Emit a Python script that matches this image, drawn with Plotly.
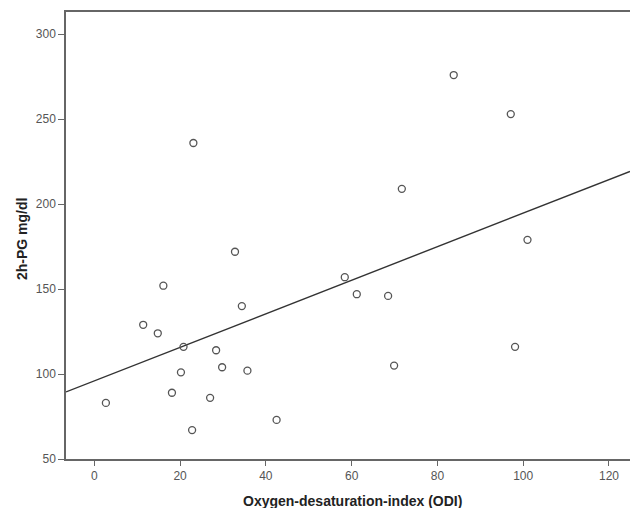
import numpy as np
import plotly.graph_objects as go

odi = [2.7, 11.4, 14.8, 16.1, 18.1, 20.2, 20.8, 22.8, 23.1, 27.0, 28.4, 29.8, 32.8, 34.4, 35.7, 42.5,
       58.4, 61.2, 68.5, 69.9, 71.7, 83.8, 97.1, 98.1, 101.0]
pg2h = [83, 129, 124, 152, 89, 101, 116, 67, 236, 86, 114, 104, 172, 140, 102, 73,
        157, 147, 146, 105, 209, 276, 253, 116, 179]

x_range = [-6.6, 124.9]
y_range = [50, 313.1]
x_ticks = [0, 20, 40, 60, 80, 100, 120]
y_ticks = [50, 100, 150, 200, 250, 300]

slope, intercept = np.polyfit(odi, pg2h, 1)
fx = np.array(x_range)
fy = intercept + slope * fx

fig = go.Figure()
fig.add_trace(go.Scatter(x=fx, y=fy, mode="lines", line=dict(color="#333333", width=1.4),
                         hoverinfo="skip", showlegend=False))
fig.add_trace(go.Scatter(x=odi, y=pg2h, mode="markers",
                         marker=dict(symbol="circle-open", size=7, color="#555555",
                                     line=dict(width=1.3, color="#555555")),
                         showlegend=False))

axis_font = dict(family="Liberation Sans, Arial, sans-serif", size=12, color="#555555")
fig.update_layout(
    width=630, height=508,
    margin=dict(l=66, r=0, t=12, b=49),
    paper_bgcolor="white", plot_bgcolor="white",
    xaxis=dict(range=x_range, tickvals=x_ticks, showgrid=False, zeroline=False,
               showline=True, linecolor="#666666", linewidth=1.5, mirror=True,
               ticks="outside", ticklen=5, tickcolor="#666666", tickwidth=1.3,
               tickfont=axis_font),
    yaxis=dict(range=y_range, tickvals=y_ticks, showgrid=False, zeroline=False,
               showline=True, linecolor="#666666", linewidth=1.5,
               ticks="outside", ticklen=6, tickcolor="#666666", tickwidth=1.3,
               tickfont=axis_font),
    annotations=[
        dict(text="<b>Oxygen-desaturation-index (ODI)</b>", xref="paper", yref="paper",
             x=(352.5 - 66) / 564, y=0, xanchor="center", yanchor="middle", yshift=-42,
             showarrow=False, font=dict(family="Liberation Sans, Arial, sans-serif", size=14, color="#222222")),
        dict(text="<b>2h-PG mg/dl</b>", xref="paper", yref="paper", textangle=-90,
             x=0, y=(459 - 239) / 447, xanchor="center", yanchor="middle", xshift=-44,
             showarrow=False, font=dict(family="Liberation Sans, Arial, sans-serif", size=14, color="#222222")),
    ],
)
fig.write_html("out.html", config={"displayModeBar": False},
               post_script="document.body.style.margin='0';document.body.style.overflow='hidden';")
